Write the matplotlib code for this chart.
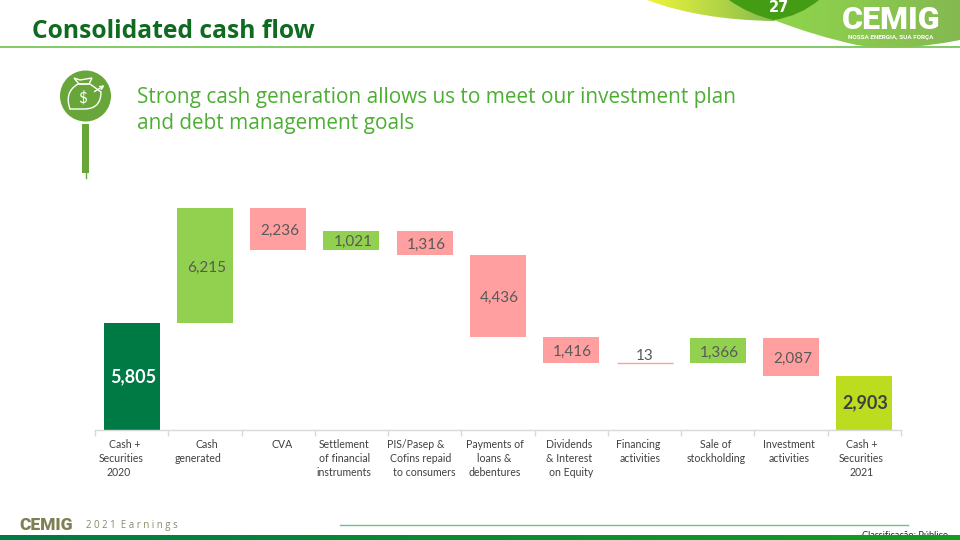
import numpy as np
import matplotlib
matplotlib.use('Agg')
import matplotlib.pyplot as plt
from matplotlib.patches import Circle, Rectangle, PathPatch
from matplotlib.path import Path
from matplotlib.colors import LinearSegmentedColormap

# chart data
categories = ['Cash +\nSecurities\n2020', 'Cash\ngenerated', 'CVA',
              'Settlement\nof financial\ninstruments', 'PIS/Pasep &\nCofins repaid\nto consumers',
              'Payments of\nloans &\ndebentures', 'Dividends\n& Interest\non Equity',
              'Financing\nactivities', 'Sale of\nstockholding', 'Investment\nactivities',
              'Cash +\nSecurities\n2021']
changes = [5805, 6215, -2236, 1021, -1316, -4436, -1416, -13, 1366, -2087, 2903]
kinds = ['start', 'up', 'down', 'up', 'down', 'down', 'down', 'down', 'up', 'down', 'end']

colors = {'start': '#007a45', 'up': '#92d050', 'down': '#ff9f9f', 'end': '#bcdc1f'}
# the labels in the slide are not quite centred, line by line (pixels from bar centre)
label_shift = [[-8, -11, -14], [1, -8], [3], [-8, -8, -8], [-10, -5, -1], [-4, -4, -4],
               [-3, -3, -1], [-7, -5], [-3, -2], [-2, -2], [-3, -3, -3]]

plt.rcParams['font.family'] = ['Lato', 'DejaVu Sans']
W, H = 960, 540
fig = plt.figure(figsize=(9.6, 5.4), dpi=100, facecolor='white')

# overlay in pixel coordinates for the slide furniture
bg = fig.add_axes([0, 0, 1, 1], zorder=0)
bg.axis('off')


def gradient(ax, path, c0, c1, x0, x1, y0=0, y1=60, zorder=1):
    cmap = LinearSegmentedColormap.from_list('g', [c0, c1])
    im = ax.imshow(np.linspace(0, 1, 256).reshape(1, -1), cmap=cmap, extent=(x0, x1, y1, y0),
                   aspect='auto', zorder=zorder)
    patch = PathPatch(path, transform=ax.transData, fc='none', ec='none')
    ax.add_patch(patch)
    im.set_clip_path(patch)


bg.set_xlim(0, W)
bg.set_ylim(H, 0)

# top right swooshes
yellow = Path([(647, 0), (700, 20), (774, 21), (800, 12), (800, 0), (647, 0)],
              [Path.MOVETO, Path.CURVE3, Path.CURVE3, Path.LINETO, Path.LINETO, Path.CLOSEPOLY])
gradient(bg, yellow, '#eef53a', '#84bb4f', 647, 775)
green = Path([(774, 20), (815, 36), (857, 45), (900, 52), (960, 40), (960, 0), (774, 0), (774, 20)],
             [Path.MOVETO, Path.CURVE3, Path.CURVE3, Path.CURVE3, Path.CURVE3, Path.LINETO, Path.LINETO, Path.CLOSEPOLY])
gradient(bg, green, '#90d64c', '#84b951', 770, 960)
cap = Path([(729, 0), (750, 15), (774, 20), (800, 16), (819, 0), (729, 0)],
           [Path.MOVETO, Path.CURVE3, Path.CURVE3, Path.CURVE3, Path.CURVE3, Path.CLOSEPOLY])
bg.add_patch(PathPatch(cap, fc='#449c15', ec='none', zorder=2))
bg.set_xlim(0, W)
bg.set_ylim(H, 0)
bg.text(779, 7, '27', color='white', fontsize=10.5, fontweight='bold', ha='center', va='center',
        family='DejaVu Sans', zorder=3)
bg.text(891.5, 20, 'CEMIG', color='white', fontsize=23, fontweight='black', ha='center', va='center',
        family='Roboto', zorder=3)
bg.text(890.5, 38, 'NOSSA ENERGIA, SUA FORÇA', color='white', fontsize=4.6, fontweight='bold',
        ha='center', va='center', family='Roboto', zorder=3)

# title
bg.plot([0, 960], [47, 47], color='#6cc04a', lw=1.2, zorder=0.5)
bg.text(32, 32, 'Consolidated cash flow', color='#0e6b1f', fontsize=17.7, fontweight='bold',
        va='center', family='Open Sans')
bg.text(137, 98, 'Strong cash generation allows us to meet our investment plan',
        color='#4caf33', fontsize=14.95, va='center', family='Open Sans')
bg.text(137, 124, 'and debt management goals', color='#4caf33', fontsize=14.95, va='center',
        family='Open Sans')

# bag icon
bg.add_patch(Circle((85.5, 96), 25.5, fc='#69a63a', ec='none', zorder=2))
bg.add_patch(Rectangle((82.3, 124), 6.4, 49, fc='#69a63a', ec='none', zorder=2))
bg.plot([85.5, 85.5], [173, 178], color='#69a63a', lw=1, zorder=2)
bag = Path([(78, 84), (64, 92), (70, 109), (84, 109), (101, 109), (101, 92), (90, 84), (78, 84)],
           [Path.MOVETO, Path.CURVE3, Path.CURVE3, Path.LINETO, Path.CURVE3, Path.CURVE3, Path.LINETO, Path.CLOSEPOLY])
bg.add_patch(PathPatch(bag, fc='none', ec='white', lw=1, zorder=3))
neck = Path([(74, 78), (80, 80), (92, 78), (89, 84), (79, 84), (74, 78)],
            [Path.MOVETO, Path.LINETO, Path.LINETO, Path.LINETO, Path.LINETO, Path.CLOSEPOLY])
bg.add_patch(PathPatch(neck, fc='none', ec='white', lw=1, zorder=3))
bg.text(83, 98, '$', color='white', fontsize=11, ha='center', va='center', zorder=3)
bg.annotate('', xy=(107, 84), xytext=(92, 93), zorder=3,
            arrowprops=dict(arrowstyle='->', color='white', lw=1, mutation_scale=6))

# footer
bg.text(862, 536, 'Classificação: Público', color='#222222', fontsize=6.7, va='center', zorder=1)
cmap_foot = LinearSegmentedColormap.from_list('f', ['#007a45', '#0fa01e'])
bg.imshow(np.linspace(0, 1, 256).reshape(1, -1), cmap=cmap_foot, extent=(0, 960, 540, 535),
          aspect='auto', zorder=2)
bg.set_xlim(0, W)
bg.set_ylim(H, 0)
bg.plot([340, 908], [524.5, 524.5], color='#6fbf8f', lw=1, zorder=1)
bg.text(46.5, 525, 'CEMIG', color='#7f7f52', fontsize=12.5, fontweight='black', ha='center', va='center',
        family='Roboto')
bg.text(86, 525.5, '2 0 2 1  E a r n i n g s', color='#8a8a6a', fontsize=7, va='center', family='Open Sans')

# waterfall chart, baseline at y=430 px
ax_left, ax_right, ax_top, ax_base = 95, 901, 200, 430
ax = fig.add_axes([ax_left / W, 1 - ax_base / H, (ax_right - ax_left) / W, (ax_base - ax_top) / H],
                  zorder=1)
ax.patch.set_alpha(0)

x = np.arange(len(changes))
bottoms = []
heights = []
running = 0
for v, k in zip(changes, kinds):
    if k in ('start', 'end'):
        bottoms.append(0)
        heights.append(v)
        running = v
    else:
        bottoms.append(min(running, running + v))
        heights.append(abs(v))
        running += v

bar_colors = [colors[k] for k in kinds]
# edge only on the very small bar, so it still shows as a line
edge_widths = [1.0 if h < 100 else 0 for h in heights]
ax.bar(x, heights, width=0.765, bottom=bottoms, color=bar_colors, edgecolor=bar_colors, linewidth=edge_widths)

for i, (b, h, k) in enumerate(zip(bottoms, heights, kinds)):
    txt = f'{h:,}'
    if k == 'start' or k == 'end':
        col = 'white' if k == 'start' else '#404040'
        ax.annotate(txt, (i, b + h / 2), xytext=(1, 0), textcoords='offset points', color=col,
                    fontsize=13, fontweight='bold', ha='center', va='center')
    elif h < 100:
        ax.text(i, b + h, txt, color='#595959', fontsize=11, ha='center', va='bottom')
    else:
        ax.annotate(txt, (i, b + h / 2), xytext=(1, -1.5), textcoords='offset points', color='#595959',
                    fontsize=11, ha='center', va='center')

ax.set_xlim(-0.5, len(changes) - 0.5)
ax.set_ylim(0, (ax_base - ax_top) / 0.01843)
ax.set_xticks(np.arange(len(changes) + 1) - 0.5)
ax.set_xticklabels([])
ax.set_yticks([])
ax.tick_params(axis='x', length=4, color='#d9d9d9', width=1)
for s in ['top', 'left', 'right']:
    ax.spines[s].set_visible(False)
ax.spines['bottom'].set_color('#d9d9d9')
ax.spines['bottom'].set_linewidth(1)

# category labels, line by line
step = 73.2
for i, cat in enumerate(categories):
    cx = 96 + step * (i + 0.5)
    for j, line in enumerate(cat.split('\n')):
        bg.text(cx + label_shift[i][j], 445 + j * 13.5, line, color='#404040', fontsize=7.6,
                ha='center', va='center')

fig.savefig('out.png', dpi=100)
